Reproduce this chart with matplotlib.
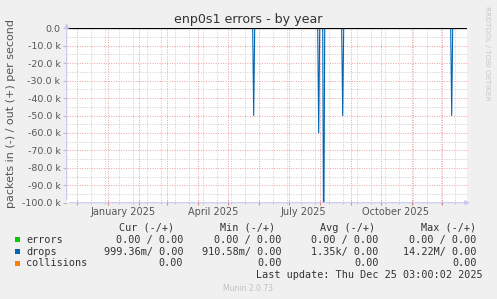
import numpy as np
import pandas as pd
import matplotlib
matplotlib.use('Agg')
import matplotlib.pyplot as plt
import matplotlib.dates as mdates
from matplotlib.patches import FancyArrowPatch, Rectangle

W, H = 497, 299

# drops (in direction) per day; every other day is ~0
start_day, end_day = '2024-11-21', '2025-12-26'
spike_days = ['2025-05-27', '2025-07-31', '2025-08-05', '2025-08-24', '2025-12-11']
spike_vals = [-50000, -60000, -140000, -50000, -50000]

month_labels = ['January 2025', 'April 2025', 'July 2025', 'October 2025']
month_label_days = ['2025-01-16', '2025-04-16', '2025-07-16', '2025-10-16']
y_ticks = [0, -10000, -20000, -30000, -40000, -50000, -60000, -70000, -80000, -90000, -100000]
y_tick_labels = ['0.0', '-10.0 k', '-20.0 k', '-30.0 k', '-40.0 k', '-50.0 k',
                 '-60.0 k', '-70.0 k', '-80.0 k', '-90.0 k', '-100.0 k']

legend_names = ['errors', 'drops', 'collisions']
legend_colors = ['#00cc00', '#0066b3', '#ff8000']
col_heads = ['Cur (-/+)', 'Min (-/+)', 'Avg (-/+)', 'Max (-/+)']
col_vals = [
    ['0.00 / 0.00', '0.00 / 0.00', '0.00 / 0.00', '0.00 / 0.00'],
    ['999.36m/ 0.00', '910.58m/ 0.00', '1.35k/ 0.00', '14.22M/ 0.00'],
    ['0.00', '0.00', '0.00', '0.00'],
]


def fx(x):
    return x / W


def fy(y):
    return 1 - y / H


days = pd.date_range(start_day, end_day, freq='D')
drops = pd.Series(0.0, index=days)
drops[pd.to_datetime(spike_days)] = spike_vals

fig = plt.figure(figsize=(W / 100, H / 100), dpi=100, facecolor='#f0f0f0')
left, right, top, bottom = 66.7, 466.7, 28.3, 202.7
ax = fig.add_axes([fx(left), fy(bottom), (right - left) / W, (bottom - top) / H])
ax.set_facecolor('white')

ax.plot(drops.index, drops.values, color='#0066b3', lw=0.8)
ax.axhline(0, color='black', lw=0.9)

ax.set_xlim(pd.Timestamp(start_day), pd.Timestamp(end_day))
ax.set_ylim(-100000, 0)

# grid: months red, every other sunday grey
ax.xaxis.set_major_locator(mdates.MonthLocator())
ax.set_xticks(pd.date_range('2024-12-01', end_day, freq='2W-SUN'), minor=True)
ax.xaxis.set_major_formatter(plt.NullFormatter())
ax.xaxis.set_minor_formatter(plt.NullFormatter())
ax.set_yticks(y_ticks)
ax.set_yticklabels(y_tick_labels)
ax.set_yticks(np.arange(-95000, 0, 10000), minor=True)

ax.grid(which='minor', color='#cccccc', lw=0.7, linestyle=(0, (1, 1.5)))
ax.grid(which='major', color='#eba0a0', lw=0.7, linestyle=(0, (1, 1.5)))
ax.set_axisbelow(True)

for s in ax.spines.values():
    s.set_visible(False)
ax.tick_params(axis='x', which='major', length=3, color='#e08080', direction='inout')
ax.tick_params(axis='x', which='minor', length=2, color='#bbbbbb', direction='inout')
ax.tick_params(axis='y', which='major', length=3, color='#bbbbbb', direction='out',
               labelsize=6.8, labelcolor='#555555', pad=1.5)
ax.tick_params(axis='y', which='minor', length=0)

# axis lines with arrows
arrow_col = '#c8c8f0'
fig.add_artist(FancyArrowPatch((fx(left), fy(bottom)), (fx(right + 6), fy(bottom)),
                               transform=fig.transFigure, arrowstyle='-|>',
                               mutation_scale=7, color=arrow_col, lw=0.8))
fig.add_artist(FancyArrowPatch((fx(left), fy(bottom)), (fx(left), fy(top - 8)),
                               transform=fig.transFigure, arrowstyle='-|>',
                               mutation_scale=7, color=arrow_col, lw=0.8))

for lab, d in zip(month_labels, month_label_days):
    ax.text(pd.Timestamp(d), -0.055, lab, transform=ax.get_xaxis_transform(),
            ha='center', va='center', fontsize=7, color='#555555')

fig.text(fx(248.4), fy(19), 'enp0s1 errors - by year', ha='center', va='center',
         fontsize=9.1, color='#333333')
fig.text(fx(11), fy(114), 'packets in (-) / out (+) per second', rotation=90,
         ha='center', va='center', fontsize=8, color='#555555')
fig.text(fx(487), fy(53), 'RRDTOOL / TOBI OETIKER', rotation=270, ha='center', va='center',
         fontsize=5.3, color='#c8c8c8')

# legend block
mono = dict(family='DejaVu Sans Mono', fontsize=7.3, color='#333333', va='center')
head_ends = [174, 275, 375, 476]
val_ends = [183.3, 281.7, 378.5, 476.7]
row_y = [239.7, 251.7, 263.3]
for h, xe in zip(col_heads, head_ends):
    fig.text(fx(xe), fy(227.7), h, ha='right', **mono)
for name, col, y, vals in zip(legend_names, legend_colors, row_y, col_vals):
    fig.patches.append(Rectangle((fx(14.7), fy(y + 2.7)), 5.4 / W, 5.4 / H,
                                 transform=fig.transFigure, facecolor=col, edgecolor='none'))
    fig.text(fx(26.3), fy(y), name, ha='left', **mono)
    for v, xe in zip(vals, val_ends):
        fig.text(fx(xe), fy(y), v, ha='right', **mono)
fig.text(fx(482.3), fy(275.3), 'Last update: Thu Dec 25 03:00:02 2025', ha='right', **mono)
fig.text(fx(248), fy(288.3), 'Munin 2.0.73', ha='center', va='center', fontsize=5.5,
         color='#c0c0c0')

fig.savefig('out.png', dpi=100, facecolor=fig.get_facecolor())
